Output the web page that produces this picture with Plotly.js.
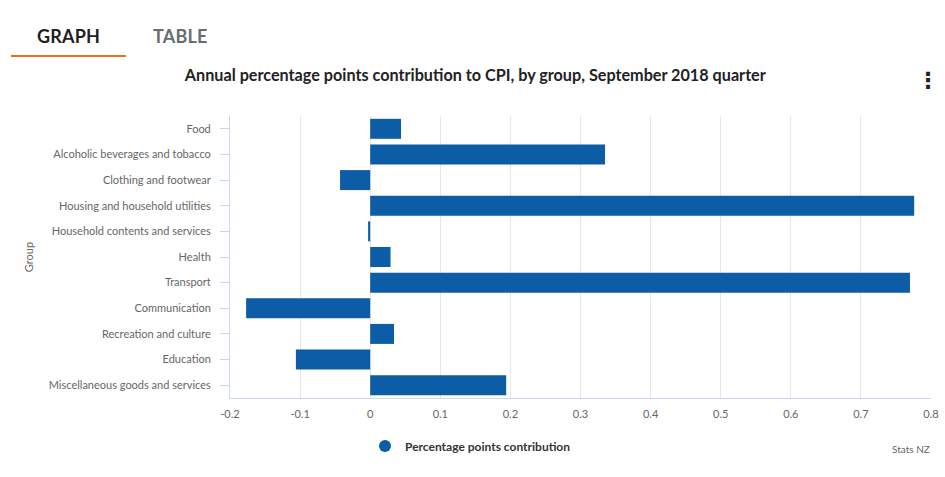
<!DOCTYPE html>
<html>
<head>
<meta charset="utf-8">
<script src="https://cdn.plot.ly/plotly-3.0.1.min.js"></script>
<style>
  html, body { margin: 0; padding: 0; background: #fff; }
  #wrap { position: relative; width: 945px; height: 477px; overflow: hidden; font-family: Lato, "Open Sans", sans-serif; }
  #tabs { position: absolute; left: 0; top: 0; width: 945px; height: 60px; }
  .tab { position: absolute; top: 25px; font-size: 18px; font-weight: 700; letter-spacing: 0.2px; }
  #tab-graph { left: 37px; color: #1f1f1f; }
  #tab-table { left: 153px; color: #666e72; }
  #underline { position: absolute; left: 11px; top: 55px; width: 115px; height: 2px; background: #e8701a; }
  #chart { position: absolute; left: 0; top: 0; width: 945px; height: 477px; }
</style>
</head>
<body>
<div id="wrap">
  <div id="chart"></div>
  <div id="tabs">
    <div class="tab" id="tab-graph">GRAPH</div>
    <div class="tab" id="tab-table">TABLE</div>
    <div id="underline"></div>
  </div>
</div>
<script>
const categories = [
  "Food",
  "Alcoholic beverages and tobacco",
  "Clothing and footwear",
  "Housing and household utilities",
  "Household contents and services",
  "Health",
  "Transport",
  "Communication",
  "Recreation and culture",
  "Education",
  "Miscellaneous goods and services"
];
const contribution = [0.044, 0.335, -0.043, 0.776, -0.003, 0.029, 0.770, -0.177, 0.034, -0.106, 0.194];
const xTicks = [-0.2, -0.1, 0, 0.1, 0.2, 0.3, 0.4, 0.5, 0.6, 0.7, 0.8];
const seriesName = "Percentage points contribution";
const chartTitle = "Annual percentage points contribution to CPI, by group, September 2018 quarter";
const yTitle = "Group";
const credit = "Stats NZ";

const blue = "#0d5ca6";
const font = "Lato, 'Open Sans', sans-serif";

const traces = [
  {
    type: "bar",
    orientation: "h",
    x: contribution,
    y: categories,
    marker: { color: blue, line: { width: 0 } },
    showlegend: false,
    hoverinfo: "x+y"
  },
  {
    type: "scatter",
    mode: "markers",
    x: [null],
    y: [null],
    name: seriesName,
    marker: { color: blue, size: 12, symbol: "circle" },
    showlegend: true,
    hoverinfo: "skip"
  }
];

const layout = {
  width: 945,
  height: 477,
  margin: { l: 230, r: 14, t: 116, b: 79 },
  paper_bgcolor: "#ffffff",
  plot_bgcolor: "#ffffff",
  font: { family: font, color: "#666666", size: 11 },
  title: {
    text: chartTitle,
    font: { family: font, size: 16.2, color: "#222222", weight: 700 },
    x: 0.503, xref: "container", xanchor: "center",
    y: 1 - 75 / 477, yref: "container", yanchor: "middle"
  },
  bargap: 0.22,
  xaxis: {
    range: [-0.2, 0.8],
    tickvals: xTicks,
    ticktext: xTicks.map(v => String(v)),
    showgrid: true,
    gridcolor: "#e6e6e6",
    gridwidth: 1,
    zeroline: false,
    showline: true,
    linecolor: "#ccd6eb",
    linewidth: 1,
    ticks: "",
    ticklabelstandoff: 6,
    tickfont: { family: font, size: 11, color: "#666666" },
    automargin: false,
    fixedrange: true
  },
  yaxis: {
    type: "category",
    categoryorder: "array",
    categoryarray: categories,
    range: [categories.length - 0.5, -0.5],
    autorange: false,
    showgrid: false,
    zeroline: false,
    showline: true,
    linecolor: "#ccd6eb",
    linewidth: 1,
    ticks: "outside",
    ticklen: 9,
    tickcolor: "#ccd6eb",
    ticklabelstandoff: 7,
    tickfont: { family: font, size: 11, color: "#666666" },
    title: { text: yTitle, font: { family: font, size: 11, color: "#666666" }, standoff: 12 },
    automargin: false,
    fixedrange: true
  },
  showlegend: true,
  legend: {
    orientation: "h",
    xref: "container", yref: "container",
    x: 365 / 945, xanchor: "left",
    y: 1 - 446 / 477, yanchor: "middle",
    font: { family: font, size: 12, color: "#333333", weight: 700 },
    itemsizing: "constant",
    bgcolor: "rgba(0,0,0,0)"
  },
  annotations: [
    {
      text: credit,
      xref: "paper", yref: "paper",
      x: (932 - 230) / 701, xanchor: "right",
      y: (398 - 449) / 282, yanchor: "middle",
      showarrow: false,
      font: { family: font, size: 10, color: "#666666" }
    },
    {
      text: "⋮",
      xref: "paper", yref: "paper",
      x: (928 - 230) / 701, xanchor: "center",
      y: (398 - 80) / 282, yanchor: "middle",
      showarrow: false,
      font: { family: "DejaVu Sans", size: 22, color: "#222222", weight: 700 }
    }
  ]
};

Plotly.newPlot("chart", traces, layout, { displayModeBar: false });
</script>
</body>
</html>
